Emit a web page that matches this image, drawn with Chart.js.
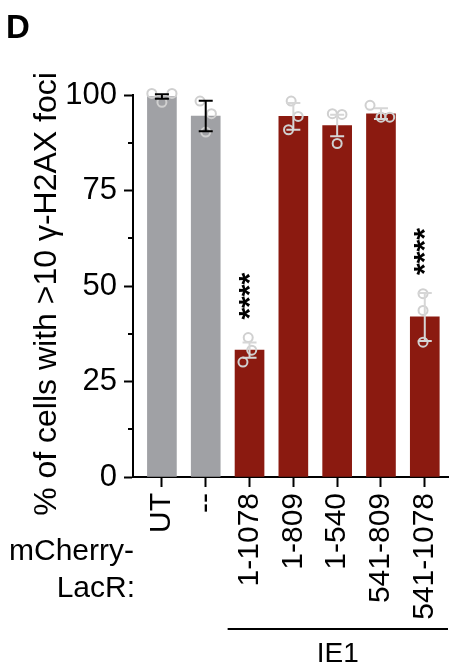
<!DOCTYPE html>
<html><head><meta charset="utf-8">
<style>html,body{margin:0;padding:0;background:#fff;overflow:hidden}#wrap{width:449px;height:668px;position:relative}</style>
<script src="https://cdn.jsdelivr.net/npm/chart.js@4/dist/chart.umd.min.js"></script>
</head><body><div id="wrap"><canvas id="c" width="449" height="668"></canvas></div>
<script>
// ---- data ----
const categories = ['UT', '--', '1-1078', '1-809', '1-540', '541-809', '541-1078'];
const groups = ['control', 'control', 'IE1', 'IE1', 'IE1', 'IE1', 'IE1'];
const means = [99.6, 94.5, 33.2, 94.4, 92.0, 95.1, 41.9];
const sds = [0.6, 4.0, 2.0, 3.5, 2.8, 1.4, 6.3];
const replicates = [
  [100.4, 98.1, 100.4],
  [98.4, 95.1, 90.3],
  [36.5, 33.2, 30.1],
  [98.4, 94.4, 90.9],
  [95.1, 94.9, 87.3],
  [97.3, 94.2, 94.2],
  [48.0, 43.6, 35.3]
];
const significance = ['', '', '****', '', '', '', '****'];
const yMajorTicks = [0, 25, 50, 75, 100];
const yMinorTicks = [12.5, 37.5, 62.5, 87.5];
const yTitle = '% of cells with >10 \u03B3-H2AX foci';
const rowLabels = ['mCherry-', 'LacR:'];
const groupLabel = 'IE1';
const panelLetter = 'D';

// ---- layout / style (not data) ----
const jitter = [
  [-0.23, 0, 0.23], [-0.13, 0.13, 0], [-0.03, 0.05, -0.15], [-0.05, 0.11, -0.11],
  [-0.11, 0.11, 0], [-0.25, 0, 0.2], [-0.04, -0.04, -0.04]
];
const FONT = '"Liberation Sans", Arial, Helvetica, sans-serif';
const COLORS = { control: '#a0a1a5', IE1: '#8b1a10' };
const ERR = { control: '#000000', IE1: '#d6d6d6' };

const barData = categories.map((c, i) => ({ x: i, y: means[i] }));
const pointData = [];
replicates.forEach((r, i) => r.forEach((v, j) => pointData.push({ x: i + jitter[i][j], y: v })));

const annot = {
  id: 'annot',
  afterDatasetsDraw(chart) {
    const { ctx, scales: { x, y } } = chart;
    ctx.save();
    means.forEach((m, i) => {
      const cx = x.getPixelForValue(i);
      const top = y.getPixelForValue(m + sds[i]);
      const bot = y.getPixelForValue(m - sds[i]);
      ctx.strokeStyle = ERR[groups[i]];
      ctx.lineWidth = 2;
      ctx.beginPath();
      ctx.moveTo(cx, top); ctx.lineTo(cx, bot);
      ctx.moveTo(cx - 7, top); ctx.lineTo(cx + 7, top);
      ctx.moveTo(cx - 7, bot); ctx.lineTo(cx + 7, bot);
      ctx.stroke();
      if (significance[i]) {
        const highest = Math.max(m + sds[i], ...replicates[i]);
        ctx.save();
        ctx.translate(cx + 1, y.getPixelForValue(highest) - 18);
        ctx.rotate(-Math.PI / 2);
        ctx.fillStyle = '#000';
        ctx.font = 'bold 30px ' + FONT;
        ctx.textAlign = 'left';
        ctx.textBaseline = 'middle';
        ctx.fillText(significance[i], 0, 0);
        ctx.restore();
      }
    });
    ctx.restore();
  },
  afterDraw(chart) {
    const { ctx, scales: { x, y }, chartArea } = chart;
    ctx.save();
    // minor y ticks
    ctx.strokeStyle = '#000'; ctx.lineWidth = 2;
    ctx.beginPath();
    yMinorTicks.forEach(v => {
      const py = Math.round(y.getPixelForValue(v));
      ctx.moveTo(chartArea.left - 5, py); ctx.lineTo(chartArea.left, py);
    });
    ctx.stroke();
    ctx.fillStyle = '#000';
    // panel letter
    ctx.font = 'bold 33px ' + FONT;
    ctx.textAlign = 'left'; ctx.textBaseline = 'alphabetic';
    ctx.fillText(panelLetter, 6, 38);
    // y title
    ctx.save();
    ctx.translate(47, 294);
    ctx.rotate(-Math.PI / 2);
    ctx.font = '32px ' + FONT;
    ctx.textAlign = 'center'; ctx.textBaseline = 'middle';
    ctx.fillText(yTitle, 0, 0);
    ctx.restore();
    // row labels
    ctx.font = '30px ' + FONT;
    ctx.textAlign = 'right';
    ctx.fillText(rowLabels[0], 134, 560);
    ctx.fillText(rowLabels[1], 135, 597);
    // group line
    const first = groups.indexOf('IE1');
    const x0 = x.getPixelForValue(first - 0.5);
    const x1 = chartArea.right;
    ctx.beginPath(); ctx.lineWidth = 2;
    ctx.moveTo(x0, 629); ctx.lineTo(x1, 629); ctx.stroke();
    ctx.font = '28px ' + FONT;
    ctx.textAlign = 'center';
    ctx.fillText(groupLabel, (x0 + x1) / 2, 662);
    ctx.restore();
  }
};

new Chart(document.getElementById('c'), {
  type: 'bar',
  data: {
    datasets: [
      {
        type: 'scatter', data: pointData, order: 0,
        pointRadius: 4.5, pointHoverRadius: 4.5, borderWidth: 2,
        borderColor: '#d0d0d0', backgroundColor: 'rgba(0,0,0,0)', showLine: false, clip: false
      },
      {
        type: 'bar', data: barData, order: 1, barThickness: 29, borderWidth: 0,
        backgroundColor: ctx => COLORS[groups[ctx.dataIndex]]
      }
    ]
  },
  options: {
    responsive: false, animation: false, devicePixelRatio: 1,
    layout: { autoPadding: false, padding: { top: 95, right: 1, left: 0, bottom: 0 } },
    plugins: { legend: { display: false }, tooltip: { enabled: false } },
    scales: {
      x: {
        type: 'linear', position: 'bottom', min: -0.66, max: 6.53, offset: false,
        grid: { display: true, drawOnChartArea: false, drawTicks: true, tickLength: 10, tickWidth: 2, tickColor: '#000', offset: false },
        border: { display: true, color: '#000', width: 2 },
        ticks: {
          minRotation: 90, maxRotation: 90, autoSkip: false, padding: 6,
          font: { size: 30, family: FONT }, color: '#000',
          callback: v => (categories[v] !== undefined ? categories[v] : '')
        },
        afterBuildTicks: s => { s.ticks = categories.map((c, i) => ({ value: i })); },
        afterFit: s => { s.height = 191; s.paddingLeft = 0; s.paddingRight = 0; }
      },
      y: {
        min: 0, max: 100,
        grid: {
          display: true, drawOnChartArea: false, drawTicks: true, tickLength: 9, tickWidth: 2,
          tickColor: ctx => (yMajorTicks.includes(ctx.tick.value) ? '#000' : 'rgba(0,0,0,0)')
        },
        border: { display: true, color: '#000', width: 2 },
        ticks: {
          stepSize: 12.5, padding: 7, color: '#000', font: { size: 31, family: FONT },
          callback: v => (yMajorTicks.includes(v) ? String(v) : '')
        },
        afterFit: s => { s.width = 133; s.paddingTop = 0; s.paddingBottom = 0; }
      }
    }
  },
  plugins: [annot]
});
</script>
</body></html>
